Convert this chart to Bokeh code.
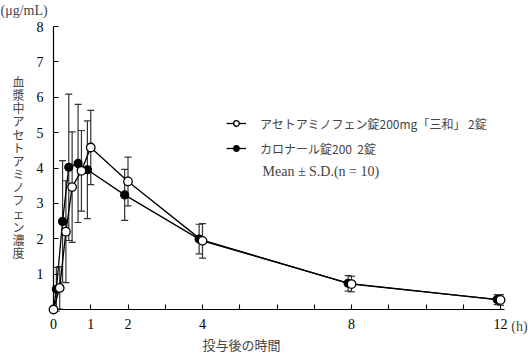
from bokeh.plotting import figure
from bokeh.models import (ColumnDataSource, Whisker, TeeHead, FixedTicker, Label,
                          Range1d, Legend, LegendItem)
from bokeh.embed import file_html
from bokeh.resources import INLINE

# ---- data ----
times = [0, 1/6, 1/3, 0.5, 0.75, 1, 2, 4, 8, 12]
sanwa_mean = [0, 0.61, 2.20, 3.46, 3.92, 4.58, 3.62, 1.94, 0.72, 0.27]
sanwa_sd = [0, 0.60, 1.44, 1.56, 1.14, 1.05, 0.69, 0.49, 0.22, 0.15]
calonal_mean = [0, 0.57, 2.49, 4.02, 4.13, 3.95, 3.24, 1.99, 0.74, 0.28]
calonal_sd = [0, 0.62, 1.72, 2.07, 1.67, 1.38, 0.72, 0.42, 0.22, 0.14]

x_ticks = list(range(0, 13))
x_tick_labels = {0: "0", 1: "1", 2: "2", 4: "4", 8: "8", 12: "12"}
y_ticks = [1, 2, 3, 4, 5, 6, 7, 8]

label_sanwa = "アセトアミノフェン錠200mg「三和」 2錠"
label_calonal = "カロナール錠200  2錠"
stats_note = "Mean \u00b1 S.D.(n = 10)"
y_title = "血漿中アセトアミノフェン濃度"
y_unit = "(\u03bcg/mL)"
x_title = "投与後の時間"
x_unit = "(h)"

JP = "Noto Sans CJK JP"
SERIF = "Liberation Serif"

W, H = 528, 354
X0_PX, Y0_PX = 53, 309          # pixel position of the data origin
PX_X, PX_Y = 37.25, 35.375      # pixels per unit
SHIFT = 0.09                    # small horizontal offset of the filled series (h)


def sy(y):
    return H - y


def mk(mean, sd, shift):
    return ColumnDataSource(dict(t=[t - shift if t > 0 else t for t in times], m=mean,
                                 lo=[a - b for a, b in zip(mean, sd)],
                                 hi=[a + b for a, b in zip(mean, sd)]))


src_s = mk(sanwa_mean, sanwa_sd, 0.0)
src_c = mk(calonal_mean, calonal_sd, SHIFT)

xr = Range1d(-X0_PX / PX_X, (W - X0_PX) / PX_X)
yr = Range1d(-(H - Y0_PX) / PX_Y, Y0_PX / PX_Y)

p = figure(width=W, height=H, output_backend="svg", toolbar_location=None,
           x_range=xr, y_range=yr,
           min_border=0, min_border_left=0, min_border_right=0,
           min_border_top=0, min_border_bottom=0)
p.grid.visible = False
p.outline_line_color = None
p.background_fill_color = "white"

for ax in (p.xaxis[0], p.yaxis[0]):
    ax.fixed_location = 0
    ax.axis_line_color = "black"
    ax.axis_line_width = 1.2
    ax.major_tick_in = 5
    ax.major_tick_out = 0
    ax.major_tick_line_width = 1.1
    ax.minor_tick_line_color = None
    ax.major_tick_line_color = "black"
    ax.major_label_text_font = SERIF
    ax.major_label_text_font_size = "14px"
    ax.major_label_text_color = "black"

p.xaxis.bounds = (0, 12.12)
p.yaxis.bounds = (0, 8)
p.xaxis.ticker = FixedTicker(ticks=x_ticks)
p.xaxis.major_label_overrides = {t: x_tick_labels.get(t, "") for t in x_ticks}
p.xaxis.major_label_standoff = 9
p.yaxis.ticker = FixedTicker(ticks=y_ticks)
p.yaxis.major_label_standoff = 10

ecol = "#333333"
for src in (src_c, src_s):
    w = Whisker(source=src, base="t", upper="hi", lower="lo",
                line_color=ecol, line_width=1.2,
                upper_head=TeeHead(size=7, line_color=ecol, line_width=1.2),
                lower_head=TeeHead(size=7, line_color=ecol, line_width=1.2))
    p.add_layout(w)

lc = p.line("t", "m", source=src_c, line_color="black", line_width=1.3)
mc = p.scatter("t", "m", source=src_c, size=8, marker="circle",
               fill_color="black", line_color="black", line_width=1.2)
ls = p.line("t", "m", source=src_s, line_color="black", line_width=1.3)
ms = p.scatter("t", "m", source=src_s, size=8.5, marker="circle",
               fill_color="white", line_color="black", line_width=1.3)
ms.level = "overlay"

legend = Legend(items=[LegendItem(label=label_sanwa, renderers=[ls, ms]),
                       LegendItem(label=label_calonal, renderers=[lc, mc])],
                location=(226, sy(158)), orientation="vertical",
                label_text_font=JP, label_text_font_size="12px",
                glyph_width=20, glyph_height=14, label_height=20,
                label_standoff=14, spacing=5, padding=0, margin=0,
                border_line_alpha=0, background_fill_alpha=0)
p.add_layout(legend)

p.add_layout(Label(x=262, y=sy(171), x_units="screen", y_units="screen",
                   text=stats_note, text_font=SERIF, text_font_size="14px",
                   text_baseline="middle", text_align="left"))

# vertical y title, stacked characters
n = len(y_title)
for i, ch in enumerate(y_title):
    yy = 81 + i * (252 - 81) / (n - 1)
    p.add_layout(Label(x=18, y=sy(yy), x_units="screen", y_units="screen",
                       text=ch, text_font=JP, text_font_size="12px",
                       text_align="center", text_baseline="middle"))

p.add_layout(Label(x=0, y=sy(10), x_units="screen", y_units="screen",
                   text=y_unit, text_font=SERIF, text_font_size="14px",
                   text_align="left", text_baseline="middle"))
p.add_layout(Label(x=241, y=sy(344), x_units="screen", y_units="screen",
                   text=x_title, text_font=JP, text_font_size="13px",
                   text_align="center", text_baseline="middle"))
p.add_layout(Label(x=519, y=sy(326), x_units="screen", y_units="screen",
                   text=x_unit, text_font=SERIF, text_font_size="14px",
                   text_align="center", text_baseline="middle"))

open("out.html", "w").write(file_html(p, INLINE))
